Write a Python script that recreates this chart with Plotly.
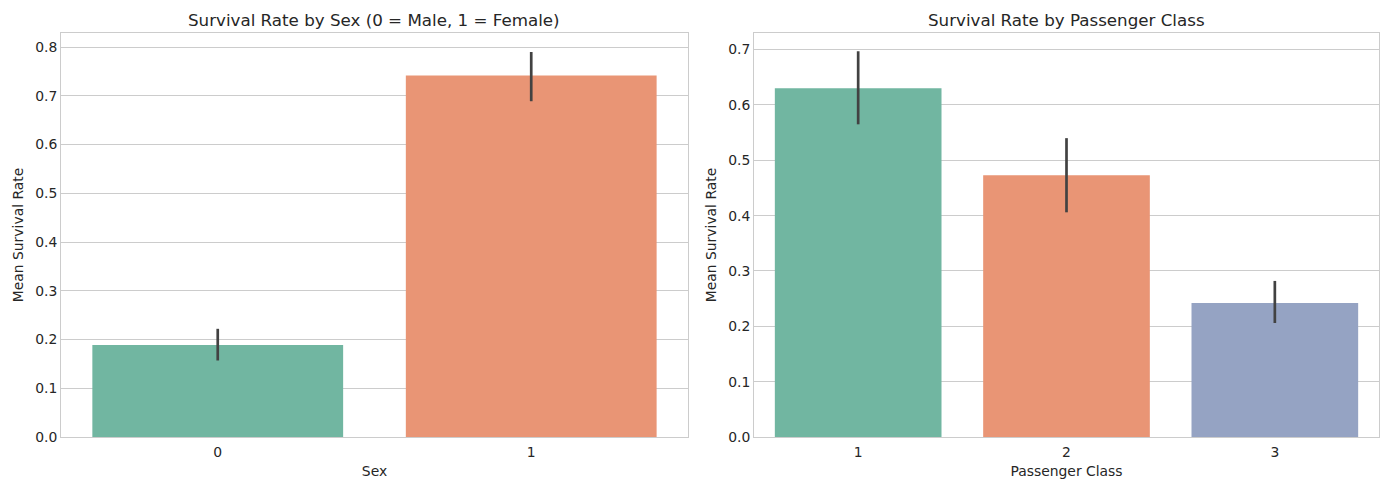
import plotly.graph_objects as go

# Data
sex_categories = ["0", "1"]
sex_rate = [0.189, 0.742]
sex_ci_low = [0.157, 0.689]
sex_ci_high = [0.222, 0.790]

class_categories = ["1", "2", "3"]
class_rate = [0.630, 0.473, 0.242]
class_ci_low = [0.565, 0.406, 0.206]
class_ci_high = [0.697, 0.540, 0.282]

colors = ["#71b6a1", "#e99575", "#95a3c3"]
text_color = "#262626"
grid_color = "#cccccc"
font_family = "DejaVu Sans"

fig = go.Figure()

fig.add_trace(go.Bar(
    x=sex_categories, y=sex_rate,
    marker=dict(color=colors[:2], line=dict(width=0)),
    width=0.8,
    error_y=dict(type="data",
                 array=[h - m for h, m in zip(sex_ci_high, sex_rate)],
                 arrayminus=[m - l for m, l in zip(sex_rate, sex_ci_low)],
                 width=0, thickness=2.7, color="#424242"),
    xaxis="x", yaxis="y", showlegend=False, hoverinfo="skip",
))

fig.add_trace(go.Bar(
    x=class_categories, y=class_rate,
    marker=dict(color=colors[:3], line=dict(width=0)),
    width=0.8,
    error_y=dict(type="data",
                 array=[h - m for h, m in zip(class_ci_high, class_rate)],
                 arrayminus=[m - l for m, l in zip(class_rate, class_ci_low)],
                 width=0, thickness=2.7, color="#424242"),
    xaxis="x2", yaxis="y2", showlegend=False, hoverinfo="skip",
))

axis_common = dict(
    showline=True, linecolor=grid_color, linewidth=1, mirror=True,
    ticks="", tickfont=dict(size=13.9, color=text_color, family=font_family),
    zeroline=False,
)
xtitle_font = dict(size=13.9, color=text_color, family=font_family)

fig.update_layout(
    width=1389, height=490,
    margin=dict(l=61, r=10, t=33, b=53),
    plot_bgcolor="white", paper_bgcolor="white",
    font=dict(family=font_family, color=text_color),
    bargap=0.2,
    xaxis=dict(domain=[0, 0.4757], type="category", range=[-0.5, 1.5],
               showgrid=False, ticklabelstandoff=2,
               title=dict(text="Sex", font=xtitle_font, standoff=7),
               **axis_common),
    yaxis=dict(range=[0, 0.829], dtick=0.1, tickformat=".1f",
               showgrid=True, gridcolor=grid_color, gridwidth=1,
               title=dict(text="Mean Survival Rate", font=xtitle_font, standoff=8),
               **axis_common),
    xaxis2=dict(domain=[0.5258, 1], type="category", range=[-0.5, 2.5],
                showgrid=False, anchor="y2", ticklabelstandoff=2,
                title=dict(text="Passenger Class", font=xtitle_font, standoff=7),
                **axis_common),
    yaxis2=dict(range=[0, 0.73], dtick=0.1, tickformat=".1f", anchor="x2",
                showgrid=True, gridcolor=grid_color, gridwidth=1,
                title=dict(text="Mean Survival Rate", font=xtitle_font, standoff=8),
                **axis_common),
    annotations=[
        dict(text="Survival Rate by Sex (0 = Male, 1 = Female)", xref="x domain", yref="paper",
             x=0.5, y=1.0, yshift=13, xanchor="center", yanchor="middle", showarrow=False,
             font=dict(size=16.7, color=text_color, family=font_family)),
        dict(text="Survival Rate by Passenger Class", xref="x2 domain", yref="paper",
             x=0.5, y=1.0, yshift=13, xanchor="center", yanchor="middle", showarrow=False,
             font=dict(size=16.7, color=text_color, family=font_family)),
    ],
)

fig.write_html("out.html")
